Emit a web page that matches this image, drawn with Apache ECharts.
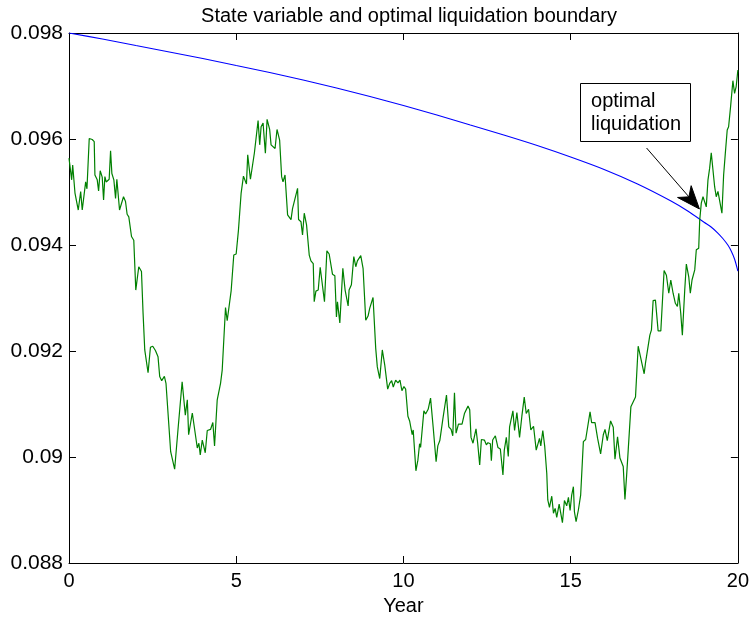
<!DOCTYPE html>
<html>
<head>
<meta charset="utf-8">
<script src="https://cdn.jsdelivr.net/npm/echarts@6/dist/echarts.min.js"></script>
<style>
  html, body { margin: 0; padding: 0; background: #ffffff; }
  #chart { width: 752px; height: 627px; }
</style>
</head>
<body>
<div id="chart"></div>
<script>
// ---- text ----
const titleText = 'State variable and optimal liquidation boundary';
const xAxisName = 'Year';
const annotationLines = ['optimal', 'liquidation'];

// ---- axis ranges ----
const xRange = { min: 0, max: 20, interval: 5 };
const yRange = { min: 0.088, max: 0.098, interval: 0.002 };

// ---- simulated state variable (green path) ----
const stateYears = [
  0,0.080,0.110,0.179,0.277,0.349,0.396,0.498,0.537,0.605,
  0.694,0.754,0.775,0.844,0.885,0.933,0.993,1.034,1.073,1.112,
  1.201,1.243,1.282,1.341,1.392,1.431,1.511,1.550,1.630,1.690,
  1.738,1.788,1.869,1.917,1.937,1.997,2.086,2.167,2.215,2.265,
  2.364,2.435,2.504,2.584,2.662,2.712,2.772,2.852,2.900,3.040,
  3.091,3.159,3.258,3.383,3.478,3.538,3.577,3.687,3.836,3.884,
  3.925,3.985,4.074,4.134,4.232,4.301,4.352,4.432,4.531,4.581,
  4.680,4.730,4.849,4.879,4.927,4.998,5.067,5.147,5.216,5.306,
  5.344,5.425,5.544,5.583,5.654,5.702,5.744,5.803,5.872,5.923,
  6.000,6.042,6.089,6.161,6.220,6.298,6.358,6.399,6.459,6.536,
  6.638,6.685,6.834,6.864,6.936,6.983,7.034,7.103,7.183,7.234,
  7.303,7.332,7.383,7.452,7.511,7.550,7.639,7.711,7.779,7.878,
  7.949,7.997,8.027,8.098,8.188,8.256,8.346,8.375,8.444,8.516,
  8.575,8.623,8.674,8.724,8.793,8.873,8.942,8.993,9.031,9.091,
  9.171,9.219,9.291,9.368,9.440,9.469,9.529,9.589,9.648,9.696,
  9.767,9.836,9.896,9.955,10.015,10.066,10.134,10.185,10.262,10.292,
  10.373,10.432,10.483,10.513,10.611,10.662,10.739,10.811,10.888,10.977,
  11.028,11.088,11.177,11.287,11.356,11.425,11.475,11.526,11.574,11.645,
  11.752,11.824,11.931,11.982,12.021,12.080,12.170,12.220,12.280,12.331,
  12.420,12.480,12.527,12.599,12.629,12.668,12.748,12.825,12.897,12.975,
  13.016,13.076,13.135,13.174,13.273,13.323,13.392,13.472,13.541,13.612,
  13.672,13.741,13.809,13.890,13.970,14.068,14.107,14.167,14.226,14.286,
  14.316,14.366,14.435,14.486,14.536,14.584,14.656,14.754,14.814,14.882,
  14.933,14.983,15.031,15.082,15.112,15.162,15.231,15.299,15.380,15.449,
  15.580,15.627,15.729,15.806,15.896,15.976,16.027,16.095,16.194,16.274,
  16.325,16.402,16.474,16.572,16.623,16.671,16.721,16.801,16.939,17.019,
  17.198,17.237,17.368,17.416,17.466,17.535,17.615,17.696,17.794,17.863,
  17.934,17.994,18.063,18.131,18.191,18.233,18.292,18.340,18.411,18.459,
  18.531,18.578,18.629,18.710,18.757,18.829,18.859,18.906,18.957,19.055,
  19.106,19.156,19.204,19.305,19.353,19.404,19.523,19.574,19.621,19.681,
  19.723,19.782,19.851,19.901,19.949,20.000
];
const stateValues = [
  0.09564,0.09523,0.09551,0.09498,0.09466,0.09501,0.09466,0.09519,0.09506,0.09601,
  0.09599,0.09595,0.09532,0.09523,0.09502,0.09540,0.09528,0.09485,0.09529,0.09519,
  0.09524,0.09578,0.09535,0.09523,0.09488,0.09524,0.09466,0.09466,0.09491,0.09482,
  0.09458,0.09453,0.09416,0.09419,0.09409,0.09315,0.09359,0.09350,0.09271,0.09202,
  0.09159,0.09207,0.09209,0.09201,0.09189,0.09152,0.09144,0.09152,0.09139,0.09010,
  0.09008,0.08977,0.09051,0.09142,0.09079,0.09108,0.09042,0.09083,0.09017,0.09026,
  0.09004,0.09032,0.09008,0.09050,0.09052,0.09065,0.09021,0.09108,0.09139,0.09164,
  0.09282,0.09257,0.09314,0.09314,0.09381,0.09383,0.09428,0.09498,0.09530,0.09515,
  0.09570,0.09524,0.09574,0.09576,0.09635,0.09589,0.09623,0.09630,0.09573,0.09637,
  0.09618,0.09589,0.09592,0.09582,0.09618,0.09598,0.09529,0.09519,0.09532,0.09457,
  0.09448,0.09469,0.09507,0.09448,0.09444,0.09419,0.09460,0.09438,0.09381,0.09370,
  0.09365,0.09293,0.09313,0.09315,0.09358,0.09356,0.09293,0.09389,0.09383,0.09345,
  0.09342,0.09264,0.09293,0.09253,0.09356,0.09315,0.09285,0.09315,0.09325,0.09378,
  0.09359,0.09370,0.09368,0.09380,0.09356,0.09258,0.09266,0.09281,0.09279,0.09301,
  0.09205,0.09170,0.09148,0.09202,0.09174,0.09175,0.09128,0.09139,0.09144,0.09132,
  0.09145,0.09140,0.09145,0.09125,0.09133,0.09128,0.09077,0.09068,0.09042,0.09051,
  0.08974,0.08994,0.09025,0.09018,0.09087,0.09081,0.09090,0.09111,0.09057,0.08991,
  0.09021,0.09031,0.09071,0.09117,0.09057,0.09052,0.09040,0.09121,0.09045,0.09062,
  0.09062,0.09082,0.09096,0.09089,0.09037,0.09026,0.09053,0.09026,0.08985,0.09033,
  0.09032,0.09023,0.09027,0.09025,0.08993,0.09032,0.09040,0.09018,0.09015,0.08966,
  0.09013,0.09037,0.09001,0.09057,0.09087,0.09050,0.09084,0.09037,0.09077,0.09113,
  0.09082,0.09090,0.09051,0.09058,0.09013,0.09035,0.09021,0.09050,0.09019,0.08969,
  0.08919,0.08905,0.08926,0.08894,0.08903,0.08886,0.08911,0.08876,0.08918,0.08908,
  0.08924,0.08899,0.08928,0.08944,0.08897,0.08878,0.08900,0.08928,0.09029,0.09033,
  0.09085,0.09065,0.09065,0.09035,0.09006,0.09042,0.09052,0.09031,0.09068,0.09056,
  0.08996,0.09038,0.08998,0.08982,0.08920,0.08963,0.09013,0.09095,0.09113,0.09209,
  0.09157,0.09177,0.09230,0.09240,0.09295,0.09296,0.09238,0.09238,0.09352,0.09343,
  0.09309,0.09334,0.09309,0.09290,0.09284,0.09309,0.09271,0.09230,0.09315,0.09364,
  0.09340,0.09309,0.09334,0.09353,0.09391,0.09394,0.09447,0.09479,0.09491,0.09472,
  0.09523,0.09545,0.09574,0.09510,0.09491,0.09501,0.09460,0.09532,0.09570,0.09617,
  0.09623,0.09661,0.09710,0.09686,0.09699,0.09730
];

// ---- optimal liquidation boundary (blue curve) ----
const boundaryYears = [0,1,2,3,4,5,6,7,8,9,10,11,12,13,14,15,16,17,18,18.5,19,19.2,19.4,19.55,19.7,19.8,19.9,20];
const boundaryValues = [
  0.098,0.097887,0.097764,0.097642,0.097519,0.097387,0.097255,0.097113,0.096962,0.096802,
  0.096632,0.096453,0.096264,0.096075,0.095877,0.09566,0.095425,0.095151,0.09483,0.094642,
  0.094425,0.09434,0.094226,0.094123,0.094,0.093887,0.093736,0.093509
];

// ---- annotation anchors (data coordinates) ----
const noteBoxTopLeft = [15.28, 0.09706];
const noteBoxBottomRight = [18.58, 0.09596];
const arrowTail = [17.27, 0.09583];
const arrowTip = [18.85, 0.09468];

const FONT = '"Liberation Sans", Arial, Helvetica, sans-serif';
const chart = echarts.init(document.getElementById('chart'), null, { renderer: 'canvas' });

const pair = (xs, ys) => xs.map((x, i) => [x, ys[i]]);

const frameAxis = (range) => ({
  type: 'value',
  min: range.min,
  max: range.max,
  interval: range.interval,
  axisLine: { show: true, onZero: false, lineStyle: { color: '#000', width: 1 } },
  axisTick: { show: true, inside: true, length: 7, lineStyle: { color: '#000', width: 1 } },
  splitLine: { show: false },
  minorTick: { show: false }
});

const yFmt = v => String(+v.toFixed(3));

chart.setOption({
  animation: false,
  backgroundColor: '#ffffff',
  title: {
    text: titleText,
    left: 404,
    textAlign: 'center',
    top: 1,
    textStyle: { fontFamily: FONT, fontSize: 20, fontWeight: 'normal', color: '#000' }
  },
  grid: { left: 69, right: 12, top: 33, bottom: 64, containLabel: false },
  xAxis: [
    Object.assign(frameAxis(xRange), {
      position: 'bottom',
      axisLabel: { show: true, color: '#000', fontFamily: FONT, fontSize: 20, margin: 8, showMinLabel: true, showMaxLabel: true },
      name: xAxisName,
      nameLocation: 'middle',
      nameGap: 33,
      nameTextStyle: { color: '#000', fontFamily: FONT, fontSize: 20 }
    }),
    Object.assign(frameAxis(xRange), { position: 'top', axisLabel: { show: false } })
  ],
  yAxis: [
    Object.assign(frameAxis(yRange), {
      position: 'left',
      axisLabel: { show: true, color: '#000', fontFamily: FONT, fontSize: 21, margin: 6, formatter: yFmt, showMinLabel: true, showMaxLabel: true }
    }),
    Object.assign(frameAxis(yRange), { position: 'right', axisLabel: { show: false } })
  ],
  series: [
    {
      type: 'line',
      xAxisIndex: 0, yAxisIndex: 0,
      data: pair(boundaryYears, boundaryValues),
      showSymbol: false,
      smooth: 0.3,
      lineStyle: { color: '#0000ff', width: 1.1 },
      z: 3
    },
    {
      type: 'line',
      xAxisIndex: 0, yAxisIndex: 0,
      data: pair(stateYears, stateValues),
      showSymbol: false,
      lineStyle: { color: '#008000', width: 1.2 },
      z: 4
    }
  ]
});

// Annotation: boxed label with an arrow pointing at the first crossing.
const toPx = p => chart.convertToPixel({ xAxisIndex: 0, yAxisIndex: 0 }, p);
const [bx0, by0] = toPx(noteBoxTopLeft);
const [bx1, by1] = toPx(noteBoxBottomRight);
const [tx, ty] = toPx(arrowTail);
const [hx, hy] = toPx(arrowTip);
const dx = hx - tx, dy = hy - ty;
const len = Math.hypot(dx, dy);
const ux = dx / len, uy = dy / len;
const nx = -uy, ny = ux;
const headLen = 23, headHalf = 9, notch = 16;
const barb1 = [hx - ux * headLen + nx * headHalf, hy - uy * headLen + ny * headHalf];
const barb2 = [hx - ux * headLen - nx * headHalf, hy - uy * headLen - ny * headHalf];
const notchPt = [hx - ux * notch, hy - uy * notch];

chart.setOption({
  graphic: [
    {
      type: 'rect', z: 100,
      shape: { x: Math.round(bx0) + 0.5, y: Math.round(by0) + 0.5, width: Math.round(bx1 - bx0), height: Math.round(by1 - by0) },
      style: { fill: '#ffffff', stroke: '#000000', lineWidth: 1 }
    },
    {
      type: 'text', z: 101, x: bx0 + 11, y: by0 + 19,
      style: { text: annotationLines[0], fontFamily: FONT, fontSize: 20, fill: '#000', verticalAlign: 'middle' }
    },
    {
      type: 'text', z: 101, x: bx0 + 11, y: by0 + 42,
      style: { text: annotationLines[1], fontFamily: FONT, fontSize: 20, fill: '#000', verticalAlign: 'middle' }
    },
    {
      type: 'line', z: 100,
      shape: { x1: tx, y1: ty, x2: notchPt[0], y2: notchPt[1] },
      style: { stroke: '#000', lineWidth: 1 }
    },
    {
      type: 'polygon', z: 100,
      shape: { points: [[hx, hy], barb1, notchPt, barb2] },
      style: { fill: '#000', stroke: '#000', lineWidth: 1 }
    }
  ]
});
</script>
</body>
</html>
